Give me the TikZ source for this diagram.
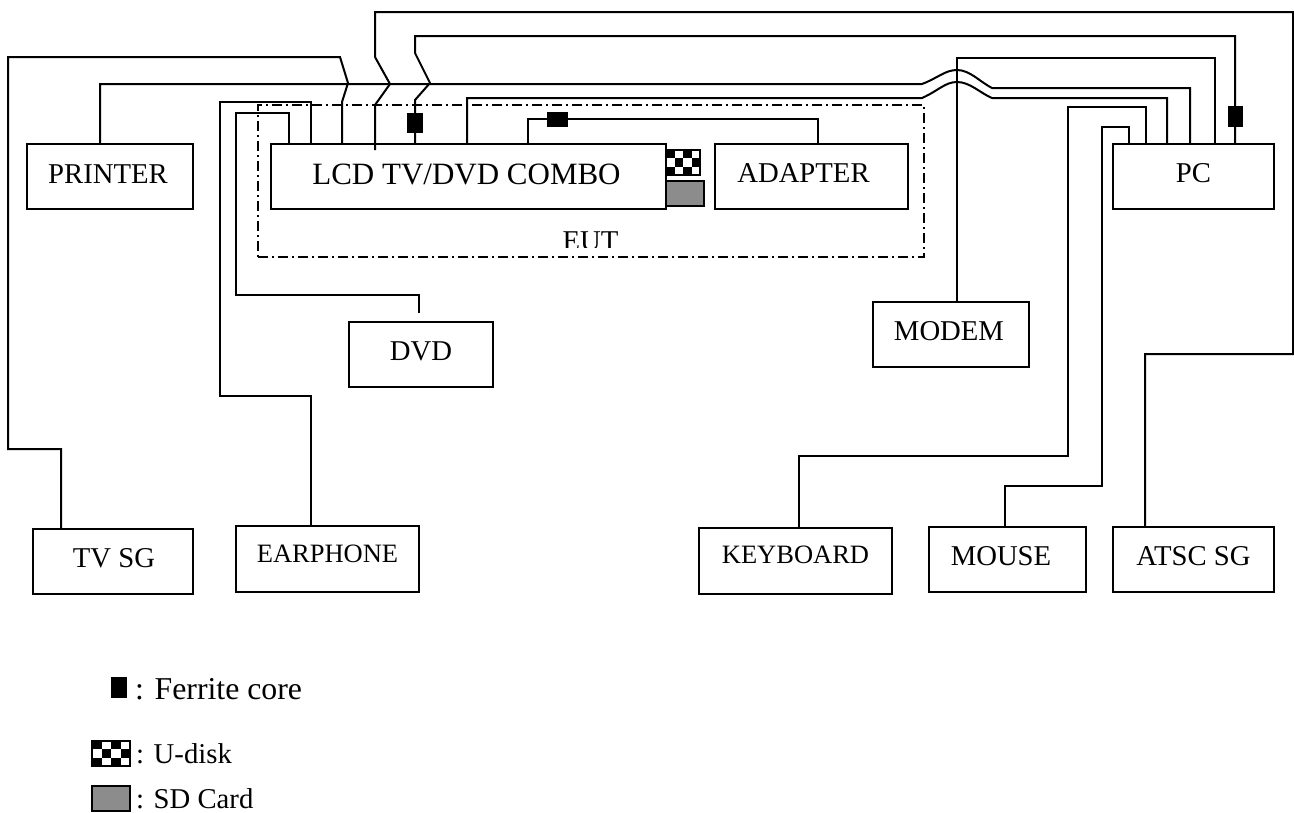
\documentclass[tikz,border=0pt]{standalone}
\usepackage{fontspec}
\setmainfont{Liberation Serif}
\newcommand\checkicon[3]{%
  \begin{scope}[shift={(#1.north west)}]
    \foreach \i/\j in {0/0,2/0,1/1,3/1,0/2,2/2}
      \fill ({\i*#2},{\j*#3}) rectangle ++(#2,#3);
  \end{scope}}
\begin{document}
\begin{tikzpicture}[x=1pt,y=-1pt,
  wire/.style={line width=2pt, line join=miter},
  box/.style={draw, line width=2pt, inner sep=0pt, outer sep=0pt, anchor=north west},
  lbl/.style={anchor=base, inner sep=0pt, font=\fontsize{28.7}{34}\selectfont},
  ferr/.style={fill=black, draw=none, inner sep=0pt, outer sep=0pt, anchor=north west},
  icon/.style={draw, line width=1.5pt, inner sep=0pt, outer sep=0pt, anchor=north west},
]
\useasboundingbox[fill=white] (0,0) rectangle (1294,812);

% EUT frame
\node[box, dash pattern=on 10pt off 4pt on 2pt off 4pt, minimum width=666pt, minimum height=152pt] (eut) at (258,105) {};

% boxes
\node[box, minimum width=166pt, minimum height=65pt] (printer) at (27,144) {};
\node[box, minimum width=395pt, minimum height=65pt] (lcd) at (271,144) {};
\node[box, minimum width=193pt, minimum height=65pt] (adapter) at (715,144) {};
\node[box, minimum width=161pt, minimum height=65pt] (pc) at (1113,144) {};
\node[box, minimum width=144pt, minimum height=65pt] (dvd) at (349,322) {};
\node[box, minimum width=183pt, minimum height=66pt] (earphone) at (236,526) {};
\node[box, minimum width=160pt, minimum height=65pt] (tvsg) at (33,529) {};
\node[box, minimum width=156pt, minimum height=65pt] (modem) at (873,302) {};
\node[box, minimum width=193pt, minimum height=66pt] (keyboard) at (699,528) {};
\node[box, minimum width=157pt, minimum height=65pt] (mouse) at (929,527) {};
\node[box, minimum width=161pt, minimum height=65pt] (atsc) at (1113,527) {};

\coordinate (atscend) at (375,150);
\coordinate (dvdend) at (419,313);

% connectors
\draw[wire] (tvsg.north -| 61,0) -- (61,449) -- (8,449) -- (8,57) -- (340,57) -- (348,83) -- (342,102) -- (lcd.north -| 342,0);
\draw[wire] (atsc.north -| 1145,0) -- (1145,354) -- (1293,354) -- (1293,12) -- (375,12) -- (375,57) -- (390,84) -- (375,105) -- (atscend);
\draw[wire] (pc.north -| 1235,0) -- (1235,36) -- (415,36) -- (415,53) -- (430,83) -- (415,100) -- (lcd.north -| 415,0);
\draw[wire] (printer.north -| 100,0) -- (100,84) -- (922,84)
  .. controls (938,78) and (945,70) .. (957,70)
  .. controls (970,70) and (980,82) .. (992,88) -- (1190,88) -- (pc.north -| 1190,0);
\draw[wire] (lcd.north -| 467,0) -- (467,98) -- (922,98)
  .. controls (938,91) and (945,82) .. (957,82)
  .. controls (970,82) and (980,93) .. (992,98) -- (1167,98) -- (pc.north -| 1167,0);
\draw[wire] (modem.north -| 957,0) -- (957,58) -- (1215,58) -- (pc.north -| 1215,0);
\draw[wire] (keyboard.north -| 799,0) -- (799,456) -- (1068,456) -- (1068,107) -- (1146,107) -- (pc.north -| 1146,0);
\draw[wire] (mouse.north -| 1005,0) -- (1005,486) -- (1102,486) -- (1102,127) -- (1129,127) -- (pc.north -| 1129,0);
\draw[wire] (earphone.north -| 311,0) -- (311,396) -- (220,396) -- (220,102) -- (311,102) -- (lcd.north -| 311,0);
\draw[wire] (dvdend) -- (419,295) -- (236,295) -- (236,113) -- (289,113) -- (lcd.north -| 289,0);
\draw[wire] (lcd.north -| 528,0) -- (528,119) -- (818,119) -- (adapter.north -| 818,0);

% ferrite cores
\node[ferr, minimum width=16pt, minimum height=20pt] (f1) at (407,113) {};
\node[ferr, minimum width=21pt, minimum height=15pt] (f2) at (547,112) {};
\node[ferr, minimum width=15pt, minimum height=21pt] (f3) at (1228,106) {};

% U-disk and SD card at LCD
\node[icon, fill=white, minimum width=34pt, minimum height=25pt] (udisk) at (666,150) {};
\checkicon{udisk}{8.5}{8.333}
\node[icon, minimum width=34pt, minimum height=25pt] (udiskb) at (666,150) {};
\node[icon, fill=black!45, minimum width=38pt, minimum height=25pt] (sd) at (666,181) {};

% labels
\node[lbl] (tprinter) at (108,183) {PRINTER};
\node[lbl, font=\fontsize{31}{36}\selectfont] (tlcd) at (466.5,184) {LCD TV/DVD COMBO};
\node[lbl] (tadapter) at (803.5,182) {ADAPTER};
\node[lbl] (tpc) at (1193.5,182) {PC};
\node[lbl] (tdvd) at (421,360) {DVD};
\node[lbl, font=\fontsize{26.5}{32}\selectfont] (tearphone) at (327.5,562) {EARPHONE};
\node[lbl] (ttvsg) at (114,567) {TV SG};
\node[lbl] (tmodem) at (949,340) {MODEM};
\node[lbl] (tmouse) at (1001,565) {MOUSE};
\node[lbl] (tatsc) at (1193.5,565) {ATSC SG};
\node[lbl, font=\fontsize{26.5}{32}\selectfont] (tkeyboard) at (795.5,563) {KEYBOARD};
\begin{scope}
  \clip (540,220) rectangle (640,247);
  \node[lbl] (teut) at (590.5,250) {EUT};
\end{scope}

% legend
\node[ferr, minimum width=16pt, minimum height=21pt] (lf) at (111,677) {};
\node[lbl, anchor=base west, font=\fontsize{31.8}{38}\selectfont] (tlf) at (135,699) {: Ferrite core};
\node[icon, fill=white, minimum width=38pt, minimum height=25pt] (lu) at (92,741) {};
\checkicon{lu}{9.5}{8.333}
\node[icon, minimum width=38pt, minimum height=25pt] (lub) at (92,741) {};
\node[lbl, anchor=base west] (tlu) at (136,763) {: U-disk};
\node[icon, fill=black!45, minimum width=38pt, minimum height=25pt] (ls) at (92,786) {};
\node[lbl, anchor=base west] (tls) at (136,808) {: SD Card};
\end{tikzpicture}
\end{document}
